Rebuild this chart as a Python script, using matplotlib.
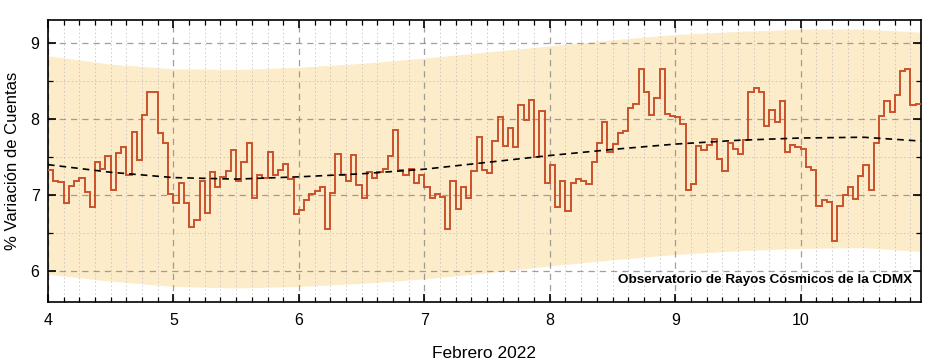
import numpy as np
import matplotlib.pyplot as plt
from matplotlib.ticker import MultipleLocator

plt.rcParams['font.family'] = ['Liberation Sans', 'DejaVu Sans']

# hourly counts variation (%), starting at day 4 00:00
variacion = [
    7.33, 7.18, 7.17, 6.90, 7.12, 7.18, 7.23, 7.04, 6.85, 7.44, 7.34, 7.51, 7.07, 7.55,
    7.63, 7.27, 7.83, 7.46, 8.05, 8.36, 8.36, 7.82, 7.68, 7.01, 6.89, 7.16, 6.89, 6.58,
    6.67, 7.19, 6.77, 7.31, 7.10, 7.24, 7.32, 7.59, 7.19, 7.43, 7.68, 6.96, 7.27, 7.22,
    7.57, 7.27, 7.33, 7.41, 7.21, 6.75, 6.81, 6.93, 7.02, 7.06, 7.11, 6.56, 7.03,
    7.54, 7.27, 7.19, 7.53, 7.13, 6.96, 7.30, 7.23, 7.30, 7.34, 7.51, 7.86, 7.33, 7.26,
    7.34, 7.16, 7.26, 7.11, 6.96, 7.02, 6.98, 6.55, 7.19, 6.82, 7.11, 6.96, 7.32, 7.76,
    7.33, 7.29, 7.71, 8.03, 7.64, 7.88, 7.63, 8.18, 7.98, 8.25, 7.50, 8.10, 7.16, 7.39,
    6.85, 7.18, 6.79, 7.16, 7.21, 7.19, 7.14, 7.43, 7.68, 7.96, 7.56, 7.67, 7.82, 7.84,
    8.15, 8.20, 8.65, 8.36, 8.05, 8.28, 8.65, 8.06, 8.04, 8.02, 7.94, 7.07, 7.15, 7.65,
    7.59, 7.66, 7.74, 7.48, 7.32, 7.69, 7.60, 7.54, 7.72, 8.35, 8.41, 8.35, 7.91, 8.12,
    7.96, 8.23, 7.56, 7.66, 7.63, 7.60, 7.37, 7.33, 6.86, 6.93, 6.91, 6.40, 6.86, 7.00,
    7.11, 6.95, 7.25, 7.39, 7.07, 7.69, 8.04, 8.23, 8.09, 8.31, 8.63, 8.65, 8.18, 8.20,
]

# trend and band, read every half day
dias_tend = [4.0, 4.5, 5.0, 5.5, 6.0, 6.5, 7.0, 7.5, 8.0, 8.5, 9.0, 9.5, 10.0, 10.5, 10.958]
tendencia = [7.40, 7.30, 7.23, 7.21, 7.24, 7.28, 7.34, 7.43, 7.52, 7.60, 7.67, 7.72, 7.75, 7.76, 7.71]
banda_sup = [8.83, 8.72, 8.66, 8.65, 8.68, 8.73, 8.80, 8.88, 8.96, 9.04, 9.11, 9.15, 9.18, 9.18, 9.14]
banda_inf = [5.96, 5.87, 5.80, 5.78, 5.80, 5.84, 5.90, 5.98, 6.07, 6.15, 6.22, 6.27, 6.30, 6.31, 6.26]

dias = ['4', '5', '6', '7', '8', '9', '10']

bordes = 4 + np.arange(len(variacion) + 1) / 24.0

fig = plt.figure(figsize=(9.33, 3.61), dpi=100)
ax = fig.add_axes([0.0514, 0.1643, 0.9356, 0.7803])

ax.fill_between(dias_tend, banda_inf, banda_sup, color='#fdecc9', lw=0, zorder=1)
ax.stairs(variacion, bordes, baseline=None, color='#c9512b', lw=1.4, zorder=3)
ax.plot(dias_tend, tendencia, color='black', ls=(0, (4, 3)), lw=1.2, zorder=4)

ax.set_xlim(4, 10.958)
ax.set_ylim(5.6, 9.3)
ax.set_xticks(np.arange(len(dias)) + 4)
ax.set_xticklabels(dias)
ax.xaxis.set_minor_locator(MultipleLocator(0.125))
ax.yaxis.set_major_locator(MultipleLocator(1))
ax.yaxis.set_minor_locator(MultipleLocator(0.5))

ax.grid(which='major', color='#888888', ls=(0, (5, 4)), lw=0.9, alpha=0.8)
ax.grid(which='minor', color='#b8b8b8', ls=(0, (1.5, 2.5)), lw=0.7, alpha=0.7)

ax.tick_params(which='both', direction='in', top=True, right=True, labelsize=11.5)
ax.tick_params(axis='x', which='both', pad=8)
ax.tick_params(axis='y', which='both', pad=6)
ax.tick_params(which='major', length=6, width=1.2)
ax.tick_params(which='minor', length=3.5, width=0.9)
for s in ax.spines.values():
  s.set_linewidth(1.2)

ax.set_xlabel('Febrero 2022', fontsize=12.5, labelpad=13)
ax.set_ylabel('% Variación de Cuentas', fontsize=12, labelpad=8)

ax.text(0.9905, 0.055, 'Observatorio de Rayos Cósmicos de la CDMX', transform=ax.transAxes,
    ha='right', va='bottom', fontsize=9.7, fontweight='bold', zorder=5)

fig.savefig('out.png', dpi=100)
